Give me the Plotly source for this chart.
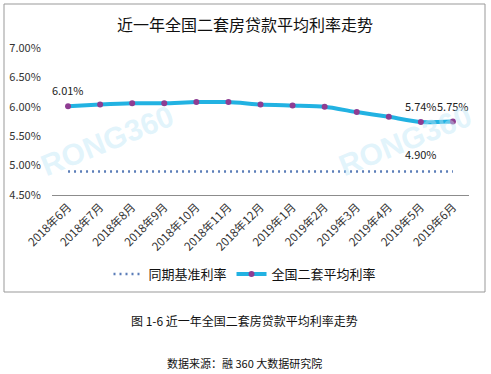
import plotly.graph_objects as go

categories = ["2018年6月", "2018年7月", "2018年8月", "2018年9月", "2018年10月", "2018年11月",
              "2018年12月", "2019年1月", "2019年2月", "2019年3月", "2019年4月", "2019年5月", "2019年6月"]
avg_rate = [6.01, 6.04, 6.06, 6.06, 6.08, 6.08, 6.04, 6.02, 6.00, 5.91, 5.83, 5.74, 5.75]
base_rate = [4.90] * 13
y_ticks = [4.5, 5.0, 5.5, 6.0, 6.5, 7.0]
y_tick_labels = ["4.50%", "5.00%", "5.50%", "6.00%", "6.50%", "7.00%"]
avg_label_idx = [0, 11, 12]
base_label_idx = [11]

W, H = 491, 374
L, R, T, B = 52, 469, 48, 195
CJK = "Noto Sans CJK SC, Liberation Sans, sans-serif"


def px(x):
    return (x - L) / (R - L)


def py(y):
    return (B - y) / (B - T)


fig = go.Figure()
fig.add_trace(go.Scatter(
    x=categories, y=base_rate, name="同期基准利率", mode="lines",
    line=dict(color="#5b7db8", width=2.5, dash="2px,4px"),
))
fig.add_trace(go.Scatter(
    x=categories, y=avg_rate, name="全国二套平均利率", mode="lines+markers",
    line=dict(color="#22b2e2", width=4, shape="spline", smoothing=0.6),
    marker=dict(color="#8e3d92", size=6),
))

annotations = []
for i in avg_label_idx:
    annotations.append(dict(x=categories[i], y=avg_rate[i], xref="x", yref="y",
                            text=f"{avg_rate[i]:.2f}%", showarrow=False, yshift=16,
                            xanchor="center", yanchor="middle",
                            font=dict(size=11, color="#222", family=CJK)))
for i in base_label_idx:
    annotations.append(dict(x=categories[i], y=base_rate[i], xref="x", yref="y",
                            text=f"{base_rate[i]:.2f}%", showarrow=False, yshift=17,
                            xanchor="center", yanchor="middle",
                            font=dict(size=11, color="#222", family=CJK)))

# watermarks
for cx, cy in [(107, 140), (405, 140)]:
    annotations.append(dict(x=px(cx), y=py(cy), xref="paper", yref="paper", text="<b>RONG360</b>",
                            showarrow=False, textangle=-22, xanchor="center", yanchor="middle",
                            font=dict(size=30, color="rgba(190,230,248,0.45)", family="Liberation Sans")))

for text, cx, cy, size in [("近一年全国二套房贷款平均利率走势", 245, 24, 16),
                           ("图 1-6 近一年全国二套房贷款平均利率走势", 244, 320, 12),
                           ("数据来源：融 360 大数据研究院", 244, 363, 11)]:
    annotations.append(dict(x=px(cx), y=py(cy), xref="paper", yref="paper", text=text,
                            showarrow=False, xanchor="center", yanchor="middle",
                            font=dict(size=size, color="#111", family=CJK)))

fig.update_layout(
    width=W, height=H,
    margin=dict(l=L, r=W - R, t=T, b=H - B, autoexpand=False),
    paper_bgcolor="white", plot_bgcolor="white",
    showlegend=True,
    legend=dict(orientation="h", x=px(245), y=py(274), xanchor="center", yanchor="middle",
                font=dict(size=13, color="#111", family=CJK),
                bgcolor="rgba(0,0,0,0)"),
    annotations=annotations,
    shapes=[dict(type="rect", xref="paper", yref="paper", x0=px(4), x1=px(485), y0=py(292), y1=py(4),
                 line=dict(color="#999", width=1), layer="below")],
    font=dict(family=CJK),
)
fig.update_xaxes(type="category", range=[-0.5, len(categories) - 0.5], showline=True,
                 linecolor="#8c8c8c", linewidth=1, showgrid=False, automargin=False,
                 ticks="", tickangle=-45, tickfont=dict(size=11.5, color="#333", family=CJK), zeroline=False)
fig.update_yaxes(range=[4.5, 7.0], tickvals=y_ticks, ticktext=y_tick_labels, showgrid=False,
                 automargin=False, ticks="outside", ticklen=8, tickcolor="rgba(0,0,0,0)",
                 showline=False, zeroline=False, tickfont=dict(size=11, color="#333", family=CJK))

fig.write_html("out.html", config={"displayModeBar": False},
               post_script="document.body.style.margin='0';document.body.style.overflow='hidden';")
